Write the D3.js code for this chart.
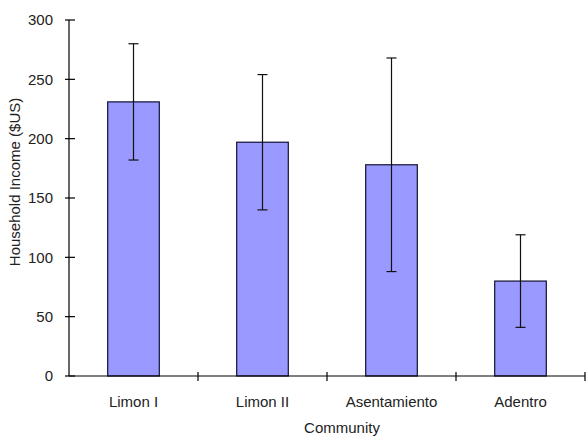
<!DOCTYPE html>
<html>
<head>
<meta charset="utf-8">
<script src="https://cdn.jsdelivr.net/npm/d3@7"></script>
<style>
  html, body { margin: 0; padding: 0; background: #fff; }
  svg { display: block; }
  text { font-family: "Liberation Sans", Arial, sans-serif; fill: #222; }
</style>
</head>
<body>
<svg id="chart" width="586" height="438"></svg>
<script>
const categories = ["Limon I", "Limon II", "Asentamiento", "Adentro"];
const incomes = [231, 197, 178, 80];
const errors = [49, 57, 90, 39];
const yTicks = [0, 50, 100, 150, 200, 250, 300];

const W = 586, H = 438;
const m = { left: 69, right: 1, top: 20, bottom: 62 };
const svg = d3.select("#chart");

const x = d3.scaleBand().domain(categories)
  .range([m.left, W - m.right]).paddingInner(0.6).paddingOuter(0.3);
const xCat = d3.scaleBand().domain(categories).range([m.left, W - m.right]).padding(0);
const y = d3.scaleLinear().domain([0, 300]).range([H - m.bottom, m.top]);

const data = categories.map((c, i) => ({ c, v: incomes[i], e: errors[i] }));

// bars
svg.append("g").selectAll("rect").data(data).join("rect")
  .attr("x", d => x(d.c))
  .attr("y", d => y(d.v))
  .attr("width", x.bandwidth())
  .attr("height", d => y(0) - y(d.v))
  .attr("fill", "#9999ff")
  .attr("stroke", "#111133")
  .attr("stroke-width", 1.2);

// error bars
const eb = svg.append("g").attr("stroke", "#111").attr("stroke-width", 1.2);
data.forEach(d => {
  const cx = x(d.c) + x.bandwidth() / 2;
  eb.append("line").attr("x1", cx).attr("x2", cx).attr("y1", y(d.v + d.e)).attr("y2", y(d.v - d.e));
  eb.append("line").attr("x1", cx - 5).attr("x2", cx + 5).attr("y1", y(d.v + d.e)).attr("y2", y(d.v + d.e));
  eb.append("line").attr("x1", cx - 5).attr("x2", cx + 5).attr("y1", y(d.v - d.e)).attr("y2", y(d.v - d.e));
});

// y axis
const yAxis = svg.append("g").attr("transform", `translate(${m.left},0)`);
yAxis.append("line").attr("x1", 0).attr("x2", 0).attr("y1", y(300)).attr("y2", y(0))
  .attr("stroke", "#000").attr("stroke-width", 1.2);
yAxis.selectAll("line.tick").data(yTicks).join("line").attr("class", "tick")
  .attr("x1", -4).attr("x2", 6).attr("y1", d => y(d)).attr("y2", d => y(d))
  .attr("stroke", "#000").attr("stroke-width", 1.2);
yAxis.selectAll("text").data(yTicks).join("text")
  .attr("x", -16).attr("y", d => y(d)).attr("dy", "0.36em")
  .attr("text-anchor", "end").attr("font-size", 15).text(d => d);

// x axis
const xAxis = svg.append("g");
xAxis.append("line").attr("x1", m.left).attr("x2", W - m.right).attr("y1", y(0)).attr("y2", y(0))
  .attr("stroke", "#000").attr("stroke-width", 1.2);
xAxis.selectAll("line.tick").data(categories).join("line").attr("class", "tick")
  .attr("x1", d => xCat(d) + xCat.bandwidth()).attr("x2", d => xCat(d) + xCat.bandwidth())
  .attr("y1", y(0) - 4).attr("y2", y(0) + 5)
  .attr("stroke", "#000").attr("stroke-width", 1.2);
xAxis.selectAll("text").data(categories).join("text")
  .attr("x", d => x(d) + x.bandwidth() / 2).attr("y", y(0) + 31)
  .attr("text-anchor", "middle").attr("font-size", 15).text(d => d);

// axis titles
svg.append("text").attr("x", 342).attr("y", 433)
  .attr("text-anchor", "middle").attr("font-size", 15).text("Community");
svg.append("text")
  .attr("transform", `translate(20,182) rotate(-90)`)
  .attr("text-anchor", "middle").attr("font-size", 15).text("Household Income ($US)");
</script>
</body>
</html>
